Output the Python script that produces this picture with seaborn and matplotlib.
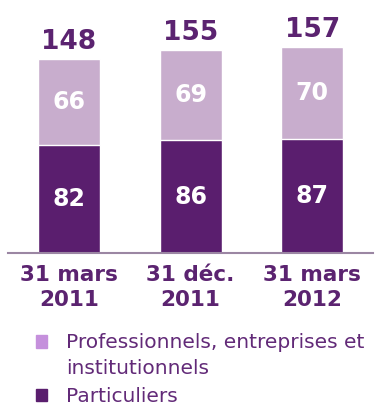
import matplotlib
matplotlib.use("Agg")
import matplotlib.pyplot as plt
from matplotlib.patches import Patch, Rectangle
from matplotlib.legend_handler import HandlerPatch
import seaborn as sns
import pandas as pd

dates = ["31 mars\n2011", "31 déc.\n2011", "31 mars\n2012"]
particuliers = [82, 86, 87]
professionnels = [66, 69, 70]

dark = "#5a1e6e"
light = "#c8adcd"
text_col = "#5b2370"

sns.set_theme(style="white")
plt.rcParams["font.family"] = ["DejaVu Sans"]

df = pd.DataFrame({"date": dates, "part": particuliers, "pro": professionnels})
df["total"] = df["part"] + df["pro"]

fig = plt.figure(figsize=(3.85, 4.08), dpi=100)
ax = fig.add_axes([0.021, 0.38, 0.948, 0.62])

sns.barplot(data=df, x="date", y="total", color=light, width=0.51,
            saturation=1, ax=ax)
sns.barplot(data=df, x="date", y="part", color=dark, width=0.51,
            saturation=1, ax=ax)

top_bars = ax.containers[0]
bottom_bars = ax.containers[1]

# totals above the bars
ax.bar_label(top_bars, labels=[str(v) for v in df["total"]], padding=3,
             fontsize=19, fontweight="bold", color=text_col)
# values inside the dark segment
ax.bar_label(bottom_bars, labels=[str(v) for v in df["part"]],
             label_type="center", fontsize=17, fontweight="bold", color="white")
# values inside the light segment
for bar, p, v in zip(top_bars, df["part"], df["pro"]):
    ax.text(bar.get_x() + bar.get_width() / 2, p + v / 2, str(v),
            ha="center", va="center", fontsize=17, fontweight="bold",
            color="white")

ax.set_xlim(-0.5, 2.5)
ax.set_ylim(0, 193)
ax.set_xlabel("")
ax.set_ylabel("")
ax.set_yticks([])
ax.tick_params(axis="x", length=0, pad=9, labelsize=15.5, labelcolor=text_col)
for lbl in ax.get_xticklabels():
    lbl.set_fontweight("bold")
    lbl.set_linespacing(1.3)
for s in ["top", "left", "right"]:
    ax.spines[s].set_visible(False)
ax.spines["bottom"].set_color("#9b86a3")
ax.spines["bottom"].set_linewidth(1.5)


# first legend square sits next to the first line of its wrapped label
def raised_square(legend, orig_handle, xdescent, ydescent, width, height, fontsize):
    return Rectangle((-xdescent, -ydescent + 10.5), width, height)


h_pro = Patch(color="#c590dc")
h_part = Patch(color=dark)
leg = fig.legend([h_pro, h_part],
                 ["Professionnels, entreprises et\ninstitutionnels", "Particuliers"],
                 handler_map={h_pro: HandlerPatch(patch_func=raised_square)},
                 loc="upper left", bbox_to_anchor=(0.093, 0.184), frameon=False,
                 fontsize=14.5, labelcolor="#622a78", handlelength=0.55,
                 handleheight=0.55, handletextpad=0.95, labelspacing=0.45,
                 borderaxespad=0, borderpad=0)
for t in leg.get_texts():
    t.set_linespacing(1.5)

fig.savefig("out.png", dpi=100)
